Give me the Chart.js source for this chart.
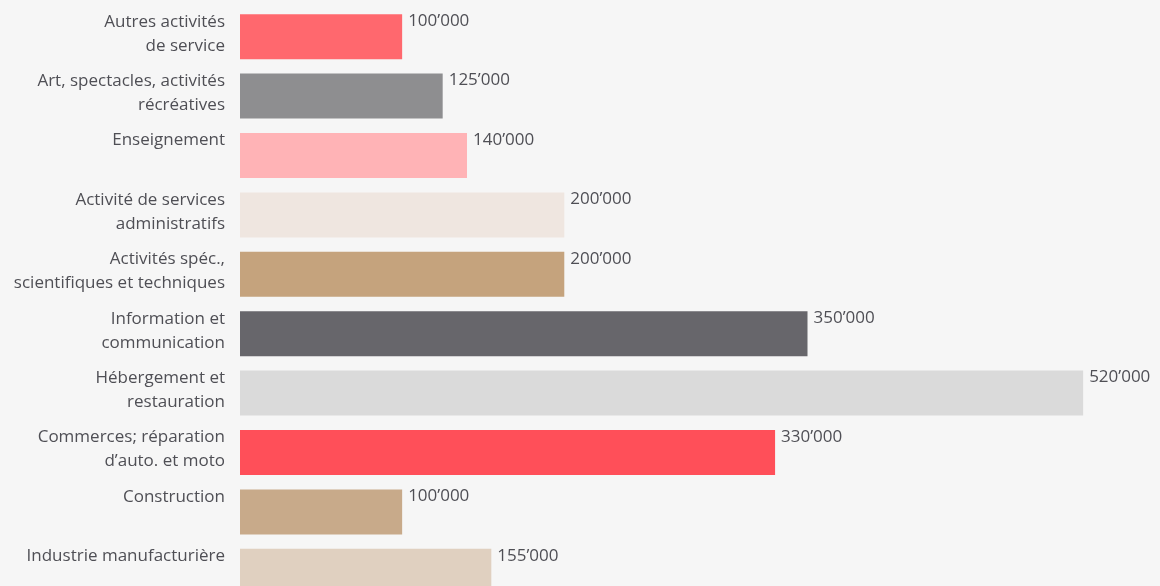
<!DOCTYPE html>
<html>
<head>
<meta charset="utf-8">
<script src="https://cdn.jsdelivr.net/npm/chart.js@4"></script>
<style>
    html, body { margin: 0; padding: 0; background: #f6f6f6; overflow: hidden; }
    #wrap { position: relative; width: 1160px; height: 601px; }
</style>
</head>
<body>
<div id="wrap"><canvas id="sectorChart"></canvas></div>
<script>
const categories = [
    'Autres activités\nde service',
    'Art, spectacles, activités\nrécréatives',
    'Enseignement',
    'Activité de services\nadministratifs',
    'Activités spéc.,\nscientifiques et techniques',
    'Information et\ncommunication',
    'Hébergement et\nrestauration',
    'Commerces; réparation\nd’auto. et moto',
    'Construction',
    'Industrie manufacturière'
];

const values = [100000, 125000, 140000, 200000, 200000, 350000, 520000, 330000, 100000, 155000];

const barColors = [
    '#ff686e', '#8e8e90', '#ffb3b6', '#efe6e0', '#c5a37d',
    '#67666b', '#dadada', '#ff4f59', '#c8aa8a', '#e0d0c0'
];

const textColor = '#4f4f55';
const fontFamily = 'Open Sans';

function formatValue(v) {
    return v.toString().replace(/\B(?=(\d{3})+(?!\d))/g, '’');
}

// value label at the top right of every bar
const valueLabels = {
    id: 'valueLabels',
    afterDatasetsDraw(chart) {
        const ctx = chart.ctx;
        const meta = chart.getDatasetMeta(0);
        ctx.save();
        ctx.font = '17px "' + fontFamily + '"';
        ctx.fillStyle = textColor;
        ctx.textAlign = 'left';
        ctx.textBaseline = 'middle';
        meta.data.forEach((bar, i) => {
            const top = bar.y - bar.height / 2;
            ctx.fillText(formatValue(values[i]), bar.x + 6, top + 7);
        });
        ctx.restore();
    }
};

new Chart(document.getElementById('sectorChart'), {
    type: 'bar',
    data: {
        labels: categories,
        datasets: [{
            data: values,
            backgroundColor: barColors,
            borderWidth: 0,
            barPercentage: 0.758,
            categoryPercentage: 1
        }]
    },
    options: {
        indexAxis: 'y',
        responsive: true,
        maintainAspectRatio: false,
        animation: false,
        layout: {
            padding: { top: 7, right: 12, bottom: 0, left: 0 }
        },
        scales: {
            x: {
                display: false,
                min: 0,
                max: 560000
            },
            y: {
                grid: { display: false, tickLength: 0 },
                border: { display: false },
                afterFit(scale) {
                    scale.width = 240;
                    // labels sit inside their category band, no extra room needed
                    scale.paddingTop = 0;
                    scale.paddingBottom = 0;
                },
                ticks: {
                    padding: 15,
                    labelOffset: -3,
                    color: textColor,
                    font: { family: fontFamily, size: 17, lineHeight: '24px' },
                    callback: function(value) {
                        const lines = categories[value].split('\n');
                        // one-line labels sit on the first line, like the others
                        if (lines.length < 2) lines.push('');
                        return lines;
                    }
                }
            }
        },
        plugins: {
            legend: { display: false },
            tooltip: { enabled: false }
        }
    },
    plugins: [valueLabels]
});
</script>
</body>
</html>
